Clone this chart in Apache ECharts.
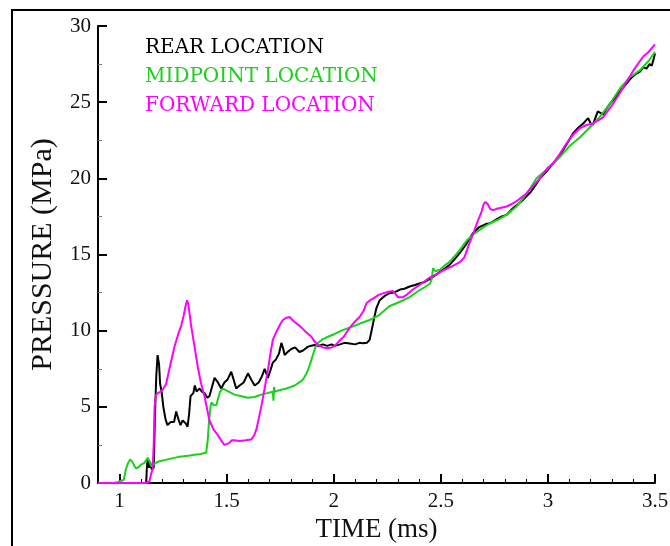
<!DOCTYPE html>
<html>
<head>
<meta charset="utf-8">
<script src="https://cdn.jsdelivr.net/npm/echarts@6/dist/echarts.min.js"></script>
<style>
  html, body { margin: 0; padding: 0; background: #fff; }
  #chart { width: 670px; height: 546px; }
</style>
</head>
<body>
<div id="chart"></div>
<script>
// Pressure traces [time (ms), pressure (MPa)] at three gauge locations
const rearLocation = [
  [0.9,0],[1.125,0],[1.128,1.0],[1.132,1.6],[1.138,1.0],[1.143,1.4],[1.15,0.9],[1.16,1.0],
  [1.166,4.5],[1.172,7.0],[1.178,8.4],[1.185,7.8],[1.19,6.5],[1.197,6.0],[1.205,5.0],[1.215,4.2],
  [1.224,3.8],[1.24,4.0],[1.255,4.0],[1.265,4.7],[1.275,4.2],[1.285,3.8],[1.295,4.1],[1.31,3.9],
  [1.318,3.7],[1.325,4.5],[1.332,5.7],[1.345,5.9],[1.352,6.4],[1.36,6.0],[1.374,6.2],[1.385,6.0],
  [1.397,5.9],[1.41,5.6],[1.42,5.7],[1.432,6.3],[1.444,6.9],[1.46,6.6],[1.475,6.2],[1.49,6.6],
  [1.505,6.8],[1.522,7.3],[1.535,6.7],[1.545,6.2],[1.561,6.4],[1.58,6.6],[1.6,7.2],[1.615,6.8],
  [1.631,6.4],[1.65,6.6],[1.665,7.0],[1.678,7.5],[1.693,6.9],[1.705,7.4],[1.716,7.9],[1.73,8.1],
  [1.745,8.5],[1.756,9.2],[1.765,8.8],[1.771,8.4],[1.785,8.6],[1.802,8.8],[1.82,8.9],[1.84,8.6],
  [1.857,8.7],[1.875,8.9],[1.89,9.0],[1.911,9.06],[1.93,9.0],[1.95,9.1],[1.97,9.0],[1.99,9.1],
  [2.005,9.0],[2.03,9.1],[2.05,9.2],[2.075,9.15],[2.1,9.1],[2.12,9.2],[2.137,9.17],[2.155,9.2],
  [2.168,9.4],[2.18,10.2],[2.19,10.9],[2.2,11.5],[2.215,12.0],[2.24,12.3],[2.26,12.45],[2.28,12.5],
  [2.31,12.7],[2.33,12.75],[2.355,12.9],[2.38,13.0],[2.4,13.1],[2.425,13.2],[2.45,13.4],[2.47,13.6],
  [2.495,13.85],[2.52,14.1],[2.54,14.3],[2.565,14.7],[2.589,15.1],[2.62,15.7],[2.65,16.4],[2.68,16.8],
  [2.71,17.0],[2.73,17.05],[2.76,17.3],[2.785,17.5],[2.807,17.6],[2.83,17.95],[2.86,18.3],[2.885,18.6],
  [2.92,19.1],[2.945,19.6],[2.963,20.0],[2.99,20.4],[3.02,20.9],[3.056,21.5],[3.09,22.3],[3.118,22.96],
  [3.14,23.3],[3.165,23.6],[3.188,23.95],[3.2,23.6],[3.21,23.5],[3.22,23.9],[3.233,24.4],[3.245,24.3],
  [3.257,24.2],[3.275,24.6],[3.29,24.9],[3.31,25.2],[3.336,25.7],[3.36,26.1],[3.383,26.5],[3.405,26.8],
  [3.43,27.0],[3.445,27.3],[3.46,27.2],[3.475,27.5],[3.485,27.4],[3.493,27.8],[3.5,28.2]
];

const midpointLocation = [
  [0.9,0],[0.97,0],[0.99,0.05],[1.02,0.2],[1.03,0.9],[1.04,1.3],[1.05,1.55],[1.06,1.4],
  [1.07,1.1],[1.078,0.96],[1.09,1.05],[1.1,1.2],[1.115,1.3],[1.125,1.5],[1.132,1.65],[1.14,1.45],
  [1.148,1.1],[1.158,1.2],[1.171,1.33],[1.19,1.45],[1.21,1.5],[1.24,1.6],[1.272,1.7],[1.3,1.75],
  [1.33,1.8],[1.35,1.85],[1.38,1.9],[1.405,2.0],[1.412,2.8],[1.418,4.0],[1.425,5.0],[1.43,5.3],
  [1.44,5.1],[1.452,5.1],[1.46,5.5],[1.47,6.0],[1.483,6.2],[1.49,6.3],[1.51,6.0],[1.537,5.8],
  [1.57,5.7],[1.6,5.6],[1.63,5.65],[1.662,5.8],[1.69,5.9],[1.716,6.0],[1.719,5.4],[1.722,6.3],
  [1.726,6.0],[1.75,6.1],[1.779,6.2],[1.8,6.3],[1.818,6.4],[1.84,6.6],[1.857,6.8],[1.87,7.1],
  [1.88,7.4],[1.892,7.9],[1.903,8.4],[1.915,8.9],[1.927,9.2],[1.95,9.45],[1.973,9.6],[2.0,9.75],
  [2.036,10.0],[2.075,10.2],[2.12,10.45],[2.168,10.7],[2.21,11.0],[2.26,11.6],[2.31,11.9],[2.355,12.2],
  [2.4,12.65],[2.43,12.9],[2.45,13.1],[2.458,13.4],[2.464,14.1],[2.475,13.9],[2.495,14.0],[2.52,14.3],
  [2.54,14.5],[2.565,14.9],[2.589,15.3],[2.62,15.9],[2.65,16.3],[2.69,16.7],[2.73,17.05],[2.77,17.3],
  [2.807,17.6],[2.85,18.1],[2.885,18.7],[2.92,19.4],[2.947,20.0],[2.98,20.4],[3.02,20.9],[3.056,21.4],
  [3.1,22.1],[3.15,22.7],[3.2,23.4],[3.243,24.05],[3.29,24.9],[3.336,25.9],[3.38,26.6],[3.43,27.1],
  [3.47,27.7],[3.5,28.3]
];

const forwardLocation = [
  [0.9,0],[1.125,0],[1.14,0.1],[1.148,0.6],[1.155,0.9],[1.16,2.5],[1.164,5.0],[1.171,5.8],
  [1.185,5.95],[1.195,6.0],[1.205,6.2],[1.218,6.5],[1.235,7.6],[1.257,8.95],[1.275,9.8],[1.288,10.3],
  [1.3,11.0],[1.31,11.7],[1.316,12.0],[1.322,11.7],[1.335,10.3],[1.35,9.0],[1.366,7.6],[1.38,6.6],
  [1.397,5.7],[1.41,4.8],[1.42,4.1],[1.44,3.5],[1.459,3.15],[1.475,2.8],[1.49,2.5],[1.499,2.4],
  [1.51,2.6],[1.525,2.8],[1.537,2.8],[1.56,2.75],[1.59,2.8],[1.615,2.85],[1.628,3.1],[1.639,3.5],
  [1.65,4.2],[1.662,5.0],[1.675,6.0],[1.693,7.4],[1.705,8.5],[1.716,9.4],[1.732,9.9],[1.75,10.4],
  [1.763,10.7],[1.78,10.85],[1.794,10.9],[1.815,10.6],[1.833,10.4],[1.85,10.2],[1.864,10.0],[1.88,9.8],
  [1.896,9.6],[1.91,9.3],[1.927,9.06],[1.95,8.9],[1.973,8.85],[1.99,8.9],[2.005,9.0],[2.025,9.3],
  [2.047,9.6],[2.075,10.2],[2.1,10.6],[2.121,10.9],[2.14,11.3],[2.153,11.8],[2.17,12.0],[2.184,12.1],
  [2.21,12.35],[2.23,12.45],[2.255,12.55],[2.277,12.6],[2.29,12.4],[2.3,12.2],[2.324,12.2],[2.345,12.4],
  [2.37,12.7],[2.41,13.1],[2.45,13.5],[2.48,13.7],[2.51,13.95],[2.55,14.2],[2.589,14.5],[2.61,14.8],
  [2.63,15.6],[2.65,16.3],[2.67,17.1],[2.69,17.8],[2.7,18.3],[2.708,18.45],[2.72,18.3],[2.73,18.0],
  [2.744,17.9],[2.76,18.0],[2.776,18.05],[2.807,18.15],[2.83,18.3],[2.854,18.5],[2.877,18.75],[2.9,19.0],
  [2.93,19.5],[2.963,20.0],[3.0,20.7],[3.025,21.0],[3.055,21.6],[3.087,22.3],[3.12,22.9],[3.15,23.3],
  [3.18,23.5],[3.21,23.6],[3.235,23.8],[3.257,24.0],[3.3,24.8],[3.336,25.6],[3.37,26.4],[3.4,27.1],
  [3.445,28.0],[3.47,28.3],[3.5,28.8]
];

// Axis ticks
const timeMajorTicks = [1, 1.5, 2, 2.5, 3, 3.5];
const timeMinorTicks = [1.1, 1.2, 1.3, 1.4, 1.6, 1.7, 1.8, 1.9, 2.1, 2.2, 2.3, 2.4,
                        2.6, 2.7, 2.8, 2.9, 3.1, 3.2, 3.3, 3.4];
const seriesNames = ['REAR LOCATION', 'MIDPOINT LOCATION', 'FORWARD LOCATION'];
const seriesColors = ['#000000', '#19d219', '#ff00ff'];

const serif = '"Liberation Serif", "Times New Roman", serif';
const chart = echarts.init(document.getElementById('chart'), null, { renderer: 'canvas' });

const seriesData = [rearLocation, midpointLocation, forwardLocation];

chart.setOption({
  animation: false,
  backgroundColor: '#ffffff',
  grid: { left: 98, right: 15, top: 26, bottom: 63, containLabel: false, outerBoundsMode: 'none' },
  legend: {
    left: 135, top: 33, orient: 'vertical',
    itemWidth: 0, itemHeight: 0, itemGap: 9,
    selectedMode: false,
    data: seriesNames.map((n, i) => ({
      name: n, icon: 'none',
      textStyle: { color: seriesColors[i] }
    })),
    textStyle: { fontFamily: '"DejaVu Serif", serif', fontSize: 20 }
  },
  graphic: [{
    type: 'rect', silent: true, z: 100,
    shape: { x: 12, y: 10, width: 700, height: 600 },
    style: { fill: 'none', stroke: '#000', lineWidth: 2 }
  }],
  xAxis: [{
    type: 'value', min: 0.9, max: 3.5,
    name: 'TIME (ms)', nameLocation: 'middle', nameGap: 28,
    nameTextStyle: { fontFamily: serif, fontSize: 27, color: '#111' },
    axisLine: { show: true, onZero: false, lineStyle: { color: '#000', width: 2 } },
    axisTick: { show: true, inside: true, length: 4, customValues: timeMinorTicks,
                lineStyle: { color: '#000', width: 1 } },
    axisLabel: { show: true, customValues: timeMajorTicks, margin: 8,
                 fontFamily: serif, fontSize: 21, color: '#111' },
    splitLine: { show: false }
  }, {
    type: 'value', min: 0.9, max: 3.5, position: 'bottom', offset: 0,
    axisLine: { show: false },
    axisTick: { show: true, inside: true, length: 9, customValues: timeMajorTicks,
                lineStyle: { color: '#000', width: 2 } },
    axisLabel: { show: false },
    splitLine: { show: false }
  }],
  yAxis: {
    type: 'value', min: 0, max: 30, interval: 5,
    name: 'PRESSURE (MPa)', nameLocation: 'middle', nameGap: 40, nameRotate: 90,
    nameTextStyle: { fontFamily: serif, fontSize: 30, color: '#111' },
    axisLine: { show: true, onZero: false, lineStyle: { color: '#000', width: 2 } },
    axisTick: { show: true, inside: true, length: 9, lineStyle: { color: '#000', width: 2 } },
    minorTick: { show: true, splitNumber: 2, length: 4, lineStyle: { color: '#777', width: 1 } },
    axisLabel: { margin: 7, fontFamily: serif, fontSize: 21, color: '#111' },
    splitLine: { show: false }
  },
  series: seriesData.map((d, i) => ({
    name: seriesNames[i], type: 'line', data: d,
    xAxisIndex: 0, yAxisIndex: 0,
    showSymbol: false, symbol: 'none', smooth: false,
    lineStyle: { color: seriesColors[i], width: 2 },
    itemStyle: { color: seriesColors[i] }
  }))
});
</script>
</body>
</html>
